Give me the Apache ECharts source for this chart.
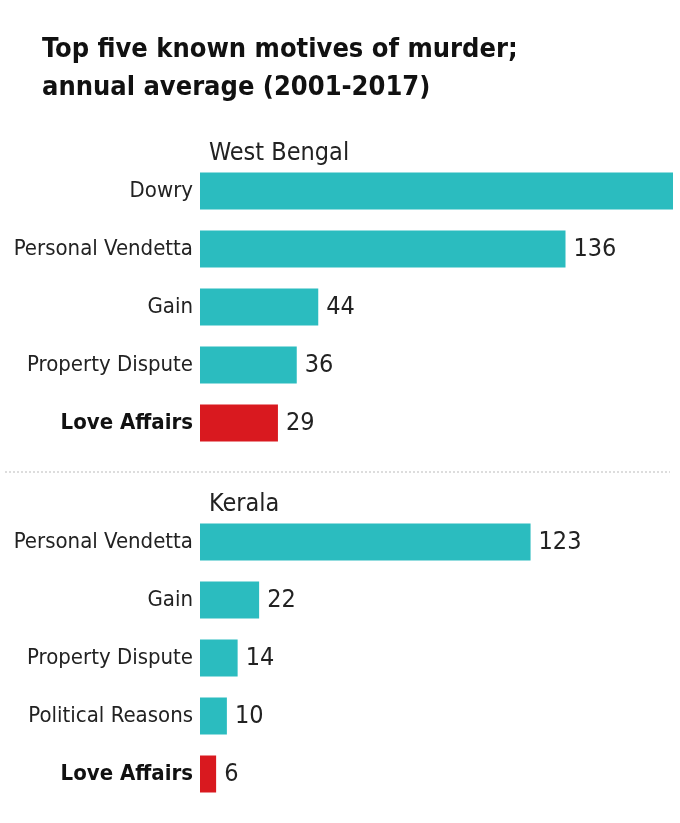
<!DOCTYPE html>
<html>
<head>
<meta charset="utf-8">
<script src="https://cdn.jsdelivr.net/npm/echarts@6/dist/echarts.min.js"></script>
<style>
html,body{margin:0;padding:0;background:#fff;}
#chart{width:680px;height:823px;}
</style>
</head>
<body>
<div id="chart"></div>
<script>
const titleText = 'Top five known motives of murder;\nannual average (2001-2017)';
const wbTitle = 'West Bengal';
const wbCategories = ['Dowry', 'Personal Vendetta', 'Gain', 'Property Dispute', 'Love Affairs'];
const wbValues = [176, 136, 44, 36, 29];
const wbShowLabel = [false, true, true, true, true];
const keTitle = 'Kerala';
const keCategories = ['Personal Vendetta', 'Gain', 'Property Dispute', 'Political Reasons', 'Love Affairs'];
const keValues = [123, 22, 14, 10, 6];
const highlight = 'Love Affairs';

const TEAL = '#2bbcbf';
const RED = '#d9191f';
const FONT = '"Liberation Sans Narrow", "Arial Narrow", "DejaVu Sans Condensed", sans-serif';
const X_MAX = 176;

function makeData(cats, vals, show) {
  return vals.map((v, i) => ({
    value: v,
    itemStyle: { color: cats[i] === highlight ? RED : TEAL },
    label: { show: show ? show[i] : true }
  }));
}

function catAxis(idx, cats) {
  return {
    type: 'category', gridIndex: idx, data: cats, inverse: true,
    axisLine: { show: false }, axisTick: { show: false },
    axisLabel: {
      margin: 7, fontFamily: FONT, fontSize: 22, color: '#222',
      formatter: v => v === highlight ? '{b|' + v + '}' : v,
      rich: { b: { fontFamily: FONT, fontSize: 22, fontWeight: 'bold', color: '#111' } }
    }
  };
}

function valAxis(idx) {
  return { type: 'value', gridIndex: idx, min: 0, max: X_MAX, show: false, splitLine: { show: false } };
}

function barSeries(idx, cats, vals, show) {
  return {
    type: 'bar', xAxisIndex: idx, yAxisIndex: idx, barWidth: 37,
    data: makeData(cats, vals, show),
    label: { show: true, position: 'right', distance: 8, fontFamily: FONT, fontSize: 25, color: '#222' },
    silent: true
  };
}

const chart = echarts.init(document.getElementById('chart'), null, { renderer: 'canvas' });
chart.setOption({
  animation: false,
  backgroundColor: '#fff',
  title: [
    { text: titleText, left: 42, top: 31, padding: 0,
      textStyle: { fontFamily: FONT, fontSize: 27, fontWeight: 'bold', color: '#111', lineHeight: 38 } },
    { text: wbTitle, left: 209, top: 141, padding: 0,
      textStyle: { fontFamily: FONT, fontSize: 25, fontWeight: 'normal', color: '#222' } },
    { text: keTitle, left: 209, top: 492, padding: 0,
      textStyle: { fontFamily: FONT, fontSize: 25, fontWeight: 'normal', color: '#222' } }
  ],
  grid: [
    { left: 200, top: 162, width: 473, height: 290 },
    { left: 200, top: 513, width: 473, height: 290 }
  ],
  xAxis: [valAxis(0), valAxis(1)],
  yAxis: [catAxis(0, wbCategories), catAxis(1, keCategories)],
  series: [barSeries(0, wbCategories, wbValues, wbShowLabel), barSeries(1, keCategories, keValues)],
  graphic: [
    { type: 'line', shape: { x1: 5, y1: 472, x2: 670, y2: 472 },
      style: { stroke: '#bbbbbb', lineWidth: 1, lineDash: [2, 2] } }
  ]
});
</script>
</body>
</html>
